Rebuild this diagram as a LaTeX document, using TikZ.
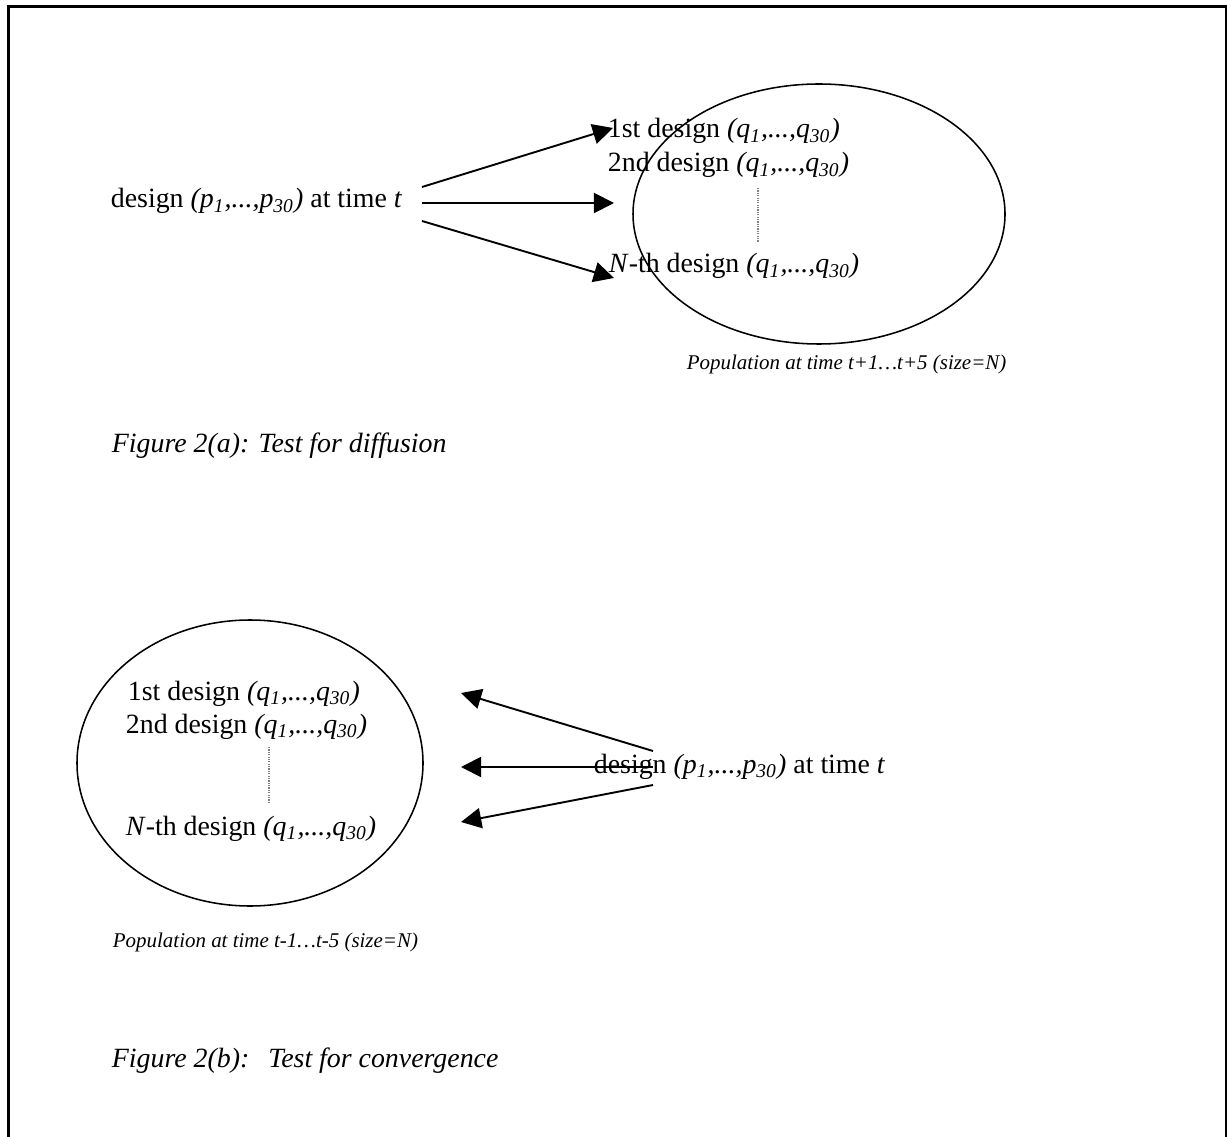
\documentclass[tikz,border=0pt]{standalone}
\usepackage{fontspec}
\setmainfont{Liberation Serif}
\usetikzlibrary{arrows.meta}
\tikzset{every picture/.style={line width=0.75pt}}
\tikzset{
  lbl/.style={anchor=base west, inner sep=0pt, font=\fontsize{11.7}{14}\selectfont},
  figlbl/.style={anchor=base west, inner sep=0pt, font=\fontsize{11.7}{14}\selectfont\itshape},
  poplbl/.style={anchor=base west, inner sep=0pt, font=\fontsize{8.8}{11}\selectfont\itshape},
  arr/.style={-{Triangle[length=8.5pt,width=8.5pt]}, line width=0.8pt},
  popline/.style={line width=0.65pt},
  gap/.style={line width=0.5pt, dash pattern=on 0.5pt off 0.5pt, color=gray}
}
\newcommand{\qvec}{\textit{(q\textsubscript{1},...,q\textsubscript{30})}}
\newcommand{\pvec}{\textit{(p\textsubscript{1},...,p\textsubscript{30})}}

\begin{document}
\begin{tikzpicture}[x=0.42pt,y=0.42pt,yscale=-1,xscale=1]
\useasboundingbox (0,0) rectangle (1227,1137);

%Frame (open at the bottom)
\draw [line width=0.85pt] (8.5,1137) -- (8.5,6.5) -- (1225.5,6.5) -- (1225.5,1137) ;

%Shape: Ellipse (population t+1...t+5)
\draw [popline] (819,214) ellipse [x radius=186, y radius=130] ;
%Shape: Ellipse (population t-1...t-5)
\draw [popline] (250,763) ellipse [x radius=173, y radius=143] ;

% Text Node
\node (srcA) [lbl] at (110,208) {design \pvec\ at time \textit{t}};
% Text Node
\node (qA1) [lbl] at (607,138) {1st design \qvec};
% Text Node
\node (qA2) [lbl] at (607,172) {2nd design \qvec};
% Text Node
\node (qAN) [lbl] at (608,273) {\textit{N}-th design \qvec};
% Text Node
\node (popA) [poplbl] at (686,370) {Population at time t+1…t+5 (size=N)};
% Text Node
\node (figA) [figlbl] at (111,453) {Figure 2(a): Test for diffusion};

% Text Node
\node (qB1) [lbl] at (127,700) {1st design \qvec};
% Text Node
\node (qB2) [lbl] at (125,733) {2nd design \qvec};
% Text Node
\node (qBN) [lbl] at (125,835) {\textit{N}-th design \qvec};
% Text Node
\node (srcB) [lbl] at (593,773) {design \pvec\ at time \textit{t}};
% Text Node
\node (popB) [poplbl] at (112,947) {Population at time t-1…t-5 (size=N)};
% Text Node
\node (figB) [figlbl] at (111,1067) {Figure 2(b):\hspace{8pt}Test for convergence};

%Straight Lines: dotted gaps
\draw [gap] (758,188) -- (758,242) ;
\draw [gap] (269,747) -- (269,804) ;

%Arrow ends
\coordinate (a1s) at (422,187) ; \coordinate (a1e) at (613,128) ;
\coordinate (a2s) at (422,203) ; \coordinate (a2e) at (614,203) ;
\coordinate (a3s) at (422,221) ; \coordinate (a3e) at (614,278) ;
\coordinate (b1s) at (653,751) ; \coordinate (b1e) at (461,693) ;
\coordinate (b2s) at (653,767) ; \coordinate (b2e) at (461,767) ;
\coordinate (b3s) at (653,785) ; \coordinate (b3e) at (461,822) ;

%Straight Lines with arrows
\draw [arr] (a1s) -- (a1e) ;
\draw [arr] (a2s) -- (a2e) ;
\draw [arr] (a3s) -- (a3e) ;
\draw [arr] (b1s) -- (b1e) ;
\draw [arr] (b2s) -- (b2e) ;
\draw [arr] (b3s) -- (b3e) ;

\end{tikzpicture}
\end{document}
